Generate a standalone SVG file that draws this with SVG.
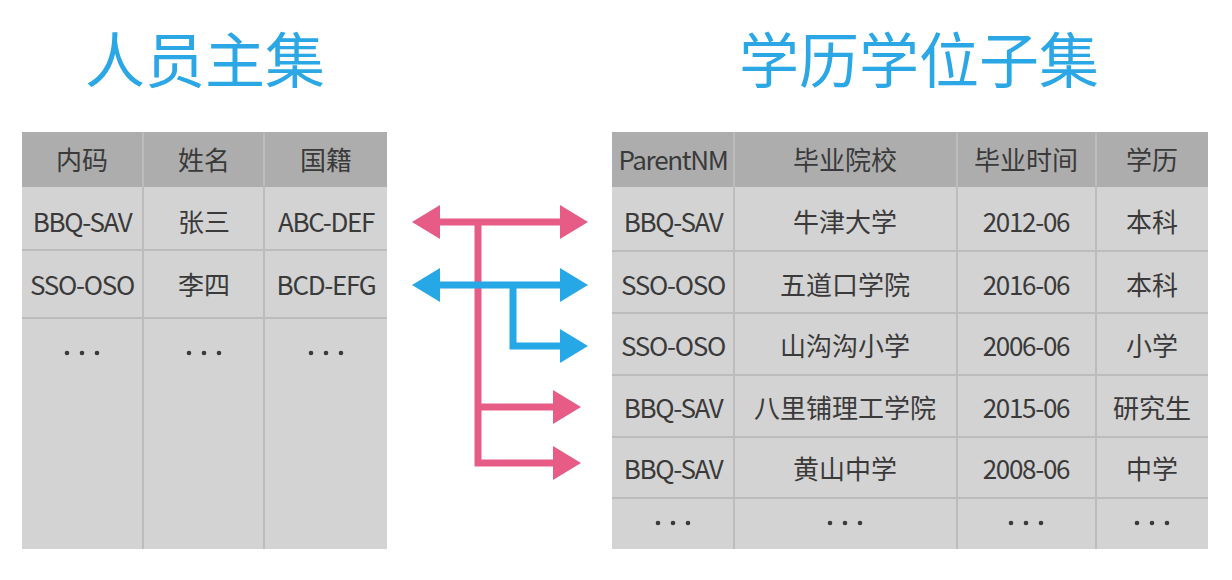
<svg xmlns="http://www.w3.org/2000/svg" width="1232" height="580" viewBox="0 0 1232 580">
<style>
.title{font-family:"Noto Sans CJK SC","Noto Sans",sans-serif;font-size:60px;fill:#2aa7e4;text-anchor:middle}
.t{font-family:"Noto Sans CJK SC","Noto Sans",sans-serif;font-size:26px;fill:#3a3a3a;text-anchor:middle;dominant-baseline:central}
.l{letter-spacing:-1.3px}
.hdr{fill:#adadad}
.body{fill:#d3d3d3}
.grid{stroke:#bcbcbc;stroke-width:2;fill:none}
.dot{fill:#3a3a3a}
.pink{stroke:#e65c87;stroke-width:7;fill:none;stroke-linejoin:miter}
.blue{stroke:#27a8e6;stroke-width:7;fill:none;stroke-linejoin:miter}
</style>
<defs>
<marker id="hp" viewBox="0 0 28 34" refX="0" refY="17" markerWidth="28" markerHeight="34" markerUnits="userSpaceOnUse" orient="auto-start-reverse"><path d="M0,0 L28,17 L0,34 Z" fill="#e65c87"/></marker>
<marker id="hb" viewBox="0 0 28 34" refX="0" refY="17" markerWidth="28" markerHeight="34" markerUnits="userSpaceOnUse" orient="auto-start-reverse"><path d="M0,0 L28,17 L0,34 Z" fill="#27a8e6"/></marker>
<g id="dots"><circle cx="-15" cy="0" r="2.3" class="dot"/><circle cx="0" cy="0" r="2.3" class="dot"/><circle cx="15" cy="0" r="2.3" class="dot"/></g>
</defs>
<rect width="1232" height="580" fill="#ffffff"/>

<g id="title-left"><text class="title" x="205" y="83">人员主集</text></g>
<g id="title-right"><text class="title" x="919" y="83">学历学位子集</text></g>

<g id="table-left">
<rect class="body" x="22" y="132" width="365" height="417"/>
<rect class="hdr" x="22" y="132" width="365" height="55"/>
<path class="grid" d="M22,250 H387 M22,318 H387 M143,132 V549 M264,132 V549"/>
<text class="t" x="82" y="158">内码</text>
<text class="t" x="204" y="158">姓名</text>
<text class="t" x="326" y="158">国籍</text>
<text class="t l" x="82" y="220">BBQ-SAV</text>
<text class="t" x="204" y="220">张三</text>
<text class="t l" x="326" y="220">ABC-DEF</text>
<text class="t l" x="82" y="283">SSO-OSO</text>
<text class="t" x="204" y="283">李四</text>
<text class="t l" x="326" y="283">BCD-EFG</text>
<use href="#dots" x="82" y="353"/>
<use href="#dots" x="204" y="353"/>
<use href="#dots" x="326" y="353"/>
</g>

<g id="table-right">
<rect class="body" x="612" y="132" width="596" height="417"/>
<rect class="hdr" x="612" y="132" width="596" height="55"/>
<path class="grid" d="M612,251 H1208 M612,313 H1208 M612,375 H1208 M612,437 H1208 M612,498 H1208 M734,132 V549 M957,132 V549 M1096,132 V549"/>
<text class="t l" x="673" y="158">ParentNM</text>
<text class="t" x="845" y="158">毕业院校</text>
<text class="t" x="1026" y="158">毕业时间</text>
<text class="t" x="1152" y="158">学历</text>
<text class="t l" x="673" y="220">BBQ-SAV</text>
<text class="t" x="845" y="220">牛津大学</text>
<text class="t l" x="1026" y="220">2012-06</text>
<text class="t" x="1152" y="220">本科</text>
<text class="t l" x="673" y="283">SSO-OSO</text>
<text class="t" x="845" y="283">五道口学院</text>
<text class="t l" x="1026" y="283">2016-06</text>
<text class="t" x="1152" y="283">本科</text>
<text class="t l" x="673" y="344">SSO-OSO</text>
<text class="t" x="845" y="344">山沟沟小学</text>
<text class="t l" x="1026" y="344">2006-06</text>
<text class="t" x="1152" y="344">小学</text>
<text class="t l" x="673" y="406">BBQ-SAV</text>
<text class="t" x="845" y="406">八里铺理工学院</text>
<text class="t l" x="1026" y="406">2015-06</text>
<text class="t" x="1152" y="406">研究生</text>
<text class="t l" x="673" y="467">BBQ-SAV</text>
<text class="t" x="845" y="467">黄山中学</text>
<text class="t l" x="1026" y="467">2008-06</text>
<text class="t" x="1152" y="467">中学</text>
<use href="#dots" x="673" y="523"/>
<use href="#dots" x="845" y="523"/>
<use href="#dots" x="1026" y="523"/>
<use href="#dots" x="1152" y="523"/>
</g>

<g id="connectors">
<path class="pink" d="M440,222 H560" marker-start="url(#hp)" marker-end="url(#hp)"/>
<path class="pink" d="M478,222 V463 H553" marker-end="url(#hp)"/>
<path class="pink" d="M478,407 H553" marker-end="url(#hp)"/>
<path class="blue" d="M440,285 H560" marker-start="url(#hb)" marker-end="url(#hb)"/>
<path class="blue" d="M513,285 V346 H560" marker-end="url(#hb)"/>
</g>
</svg>
